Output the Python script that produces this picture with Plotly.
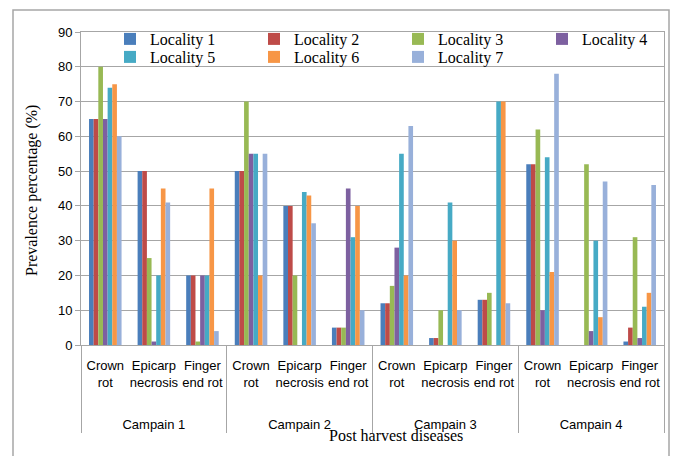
import plotly.graph_objects as go

# Post-harvest disease prevalence (%) by campaign, disease and locality
campaigns = ["Campain 1", "Campain 2", "Campain 3", "Campain 4"]
diseases = ["Crown<br>rot", "Epicarp<br>necrosis", "Finger<br>end rot"]
localities = ["Locality 1", "Locality 2", "Locality 3", "Locality 4",
              "Locality 5", "Locality 6", "Locality 7"]

# values ordered campaign by campaign: crown rot, epicarp necrosis, finger end rot
locality_1 = [65, 50, 20, 50, 40, 5, 12, 2, 13, 52, 0, 1]
locality_2 = [65, 50, 20, 50, 40, 5, 12, 2, 13, 52, 0, 5]
locality_3 = [80, 25, 1, 70, 20, 5, 17, 10, 15, 62, 52, 31]
locality_4 = [65, 1, 20, 55, 0, 45, 28, 0, 0, 10, 4, 2]
locality_5 = [74, 20, 20, 55, 44, 31, 55, 41, 70, 54, 30, 11]
locality_6 = [75, 45, 45, 20, 43, 40, 20, 30, 70, 21, 8, 15]
locality_7 = [60, 41, 4, 55, 35, 10, 63, 10, 12, 78, 47, 46]

series = [locality_1, locality_2, locality_3, locality_4,
          locality_5, locality_6, locality_7]
colors = ["#4A7EBB", "#BE4B48", "#98B954", "#7D60A0",
          "#46AAC5", "#F79646", "#98B0DA"]

y_ticks = [0, 10, 20, 30, 40, 50, 60, 70, 80, 90]

# campaign labels sit two lines below the disease labels
outer = ["<br><br>" + c for c in campaigns for _ in diseases]
inner = [d for _ in campaigns for d in diseases]

fig = go.Figure()
for i, (name, vals, col) in enumerate(zip(localities, series, colors)):
    fig.add_trace(go.Bar(
        name=name,
        x=[outer, inner],
        y=vals,
        marker=dict(color=col, line=dict(width=0)),
        legend="legend" if i < 4 else "legend2",
    ))

W, H = 673, 456
L, R, T, B = 81, 9, 32, 111
pw, ph = W - L - R, H - T - B


def px_x(p):
    return (p - L) / pw


def px_y(p):
    return (H - B - p) / ph


grid = "#A6A6A6"
sans = "Liberation Sans"
serif = "Liberation Serif"

legend_style = dict(
    orientation="h", xanchor="left", yanchor="top",
    entrywidth=99, entrywidthmode="pixels",
    font=dict(family=serif, size=16, color="#000000"),
    bgcolor="rgba(0,0,0,0)", borderwidth=0, traceorder="normal",
)

fig.update_layout(
    width=W, height=H,
    margin=dict(l=L, r=R, t=T, b=B, autoexpand=False),
    paper_bgcolor="white", plot_bgcolor="white",
    barmode="group", bargap=0.33, bargroupgap=0,
    font=dict(family=sans, size=13, color="#000000"),
    legend=dict(x=px_x(110), y=px_y(22), **legend_style),
    legend2=dict(x=px_x(110), y=px_y(40), **legend_style),
    showlegend=True,
)

fig.update_yaxes(
    range=[0, 90], tickvals=y_ticks,
    showgrid=True, gridcolor=grid, gridwidth=1,
    showline=True, linecolor=grid, linewidth=1, mirror=True,
    ticks="outside", ticklen=5, tickcolor=grid,
    tickfont=dict(family=sans, size=13),
    zeroline=False,
)
fig.update_xaxes(
    type="multicategory", tickangle=0,
    showline=True, linecolor=grid, linewidth=1, mirror=True,
    ticks="", showdividers=True, dividercolor=grid, dividerwidth=1,
    tickfont=dict(family=sans, size=13),
    ticklabelstandoff=8,
)

# axis titles
fig.add_annotation(
    text="Prevalence percentage (%)", textangle=-90,
    xref="paper", yref="paper", x=px_x(32), y=px_y(191),
    xanchor="center", yanchor="middle", showarrow=False,
    font=dict(family=serif, size=16, color="#000000"),
)
fig.add_annotation(
    text="Post harvest diseases",
    xref="paper", yref="paper", x=px_x(396), y=px_y(435),
    xanchor="center", yanchor="middle", showarrow=False,
    font=dict(family=serif, size=16, color="#000000"),
)

# chart-area frame
fig.add_shape(
    type="rect", xref="paper", yref="paper",
    x0=px_x(13), x1=px_x(669), y0=px_y(475), y1=px_y(10),
    line=dict(color="#A6A6A6", width=1.5), fillcolor="rgba(0,0,0,0)",
    layer="below",
)

fig.write_html("out.html")
